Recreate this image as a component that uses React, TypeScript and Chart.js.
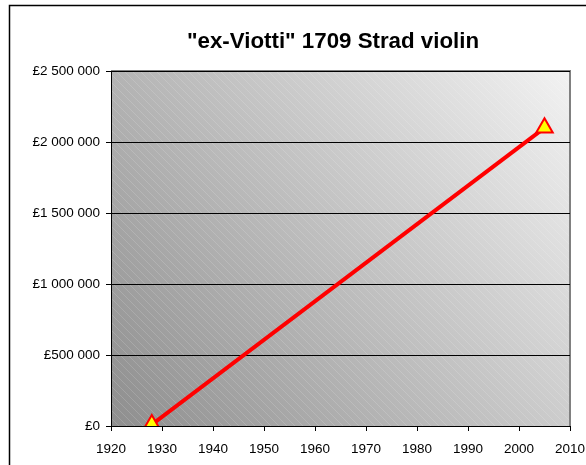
import React, { useEffect, useRef } from "react";
import { Chart, registerables } from "chart.js";

Chart.register(...registerables);

const TITLE = '"ex-Viotti" 1709 Strad violin';
const years = [1928, 2005];
const prices = [10000, 2100000];
const yTicks = [0, 500000, 1000000, 1500000, 2000000, 2500000];
const xTicks = [1920, 1930, 1940, 1950, 1960, 1970, 1980, 1990, 2000, 2010];

function fmtPound(v: number): string {
  const s = Math.round(v).toString().replace(/\B(?=(\d{3})+(?!\d))/g, " ");
  return "£" + s;
}

const FONT = "'Liberation Sans', Arial, sans-serif";

const bgPlugin = {
  id: "bgPlugin",
  beforeDraw(chart: any) {
    const { ctx, chartArea: a, width } = chart;
    ctx.save();
    // outer frame
    ctx.strokeStyle = "#000";
    ctx.lineWidth = 1.5;
    ctx.strokeRect(9.5, 5.5, width + 20, 600);
    // title
    ctx.fillStyle = "#000";
    ctx.font = "bold 22.3px " + FONT;
    ctx.textAlign = "center";
    ctx.textBaseline = "alphabetic";
    ctx.fillText(TITLE, 333, 48);
    // gradient
    const g = ctx.createLinearGradient(a.left, a.bottom, a.right, a.top);
    g.addColorStop(0, "#8e8e8e");
    g.addColorStop(1, "#f2f2f2");
    ctx.fillStyle = g;
    ctx.fillRect(a.left, a.top, a.right - a.left, a.bottom - a.top);
    // hatch
    ctx.beginPath();
    ctx.rect(a.left, a.top, a.right - a.left, a.bottom - a.top);
    ctx.clip();
    ctx.strokeStyle = "rgba(255,255,255,0.15)";
    ctx.lineWidth = 1;
    const h = a.bottom - a.top;
    for (let x = a.left - h; x < a.right; x += 8) {
      ctx.beginPath();
      ctx.moveTo(x, a.top);
      ctx.lineTo(x + h, a.bottom);
      ctx.stroke();
    }
    ctx.restore();
    // top/right gray border
    ctx.save();
    ctx.strokeStyle = "#808080";
    ctx.lineWidth = 2;
    ctx.beginPath();
    ctx.moveTo(a.left, a.top);
    ctx.lineTo(a.right, a.top);
    ctx.lineTo(a.right, a.bottom);
    ctx.stroke();
    ctx.restore();
  },
};

export default function App() {
  const ref = useRef<HTMLCanvasElement>(null);
  useEffect(() => {
    if (!ref.current) return;
    const chart = new Chart(ref.current, {
      type: "scatter",
      data: {
        datasets: [
          {
            data: years.map((x, i) => ({ x, y: prices[i] })),
            showLine: true,
            borderColor: "#ff0000",
            borderWidth: 4,
            pointStyle: "triangle",
            pointRadius: 9.5,
            pointBackgroundColor: "#ffff00",
            pointBorderColor: "#ff0000",
            pointBorderWidth: 2,
          },
        ],
      },
      plugins: [bgPlugin],
      options: {
        animation: false,
        responsive: false,
        layout: { padding: { top: 71, right: 16, left: 0, bottom: 0 } },
        plugins: { legend: { display: false }, tooltip: { enabled: false }, title: { display: false } },
        scales: {
          x: {
            type: "linear",
            min: 1920,
            max: 2010,
            afterBuildTicks: (s: any) => {
              s.ticks = xTicks.map((v) => ({ value: v }));
            },
            afterFit: (s: any) => {
              s.height = 39;
              s.paddingLeft = 0;
              s.paddingRight = 0;
            },
            grid: { drawOnChartArea: false, drawTicks: true, tickLength: 5, color: "#000" },
            border: { color: "#000", width: 1 },
            ticks: {
              color: "#000",
              font: { family: FONT, size: 13.5 },
              maxRotation: 0,
              padding: 10,
              callback: (v: any) => String(v),
            },
          },
          y: {
            min: 0,
            max: 2500000,
            afterBuildTicks: (s: any) => {
              s.ticks = yTicks.map((v) => ({ value: v }));
            },
            afterFit: (s: any) => {
              s.width = 111;
              s.paddingTop = 0;
              s.paddingBottom = 0;
            },
            grid: { drawOnChartArea: true, drawTicks: true, tickLength: 5, color: "#000" },
            border: { color: "#000", width: 1 },
            ticks: {
              color: "#000",
              font: { family: FONT, size: 13.5 },
              padding: 6,
              callback: (v: any) => fmtPound(Number(v)),
            },
          },
        },
      },
    });
    return () => chart.destroy();
  }, []);
  return (
    <div style={{ position: "fixed", left: 0, top: 0, width: 586, height: 465, background: "#fff" }}>
      <canvas ref={ref} width={586} height={465} style={{ width: 586, height: 465 }} />
    </div>
  );
}
